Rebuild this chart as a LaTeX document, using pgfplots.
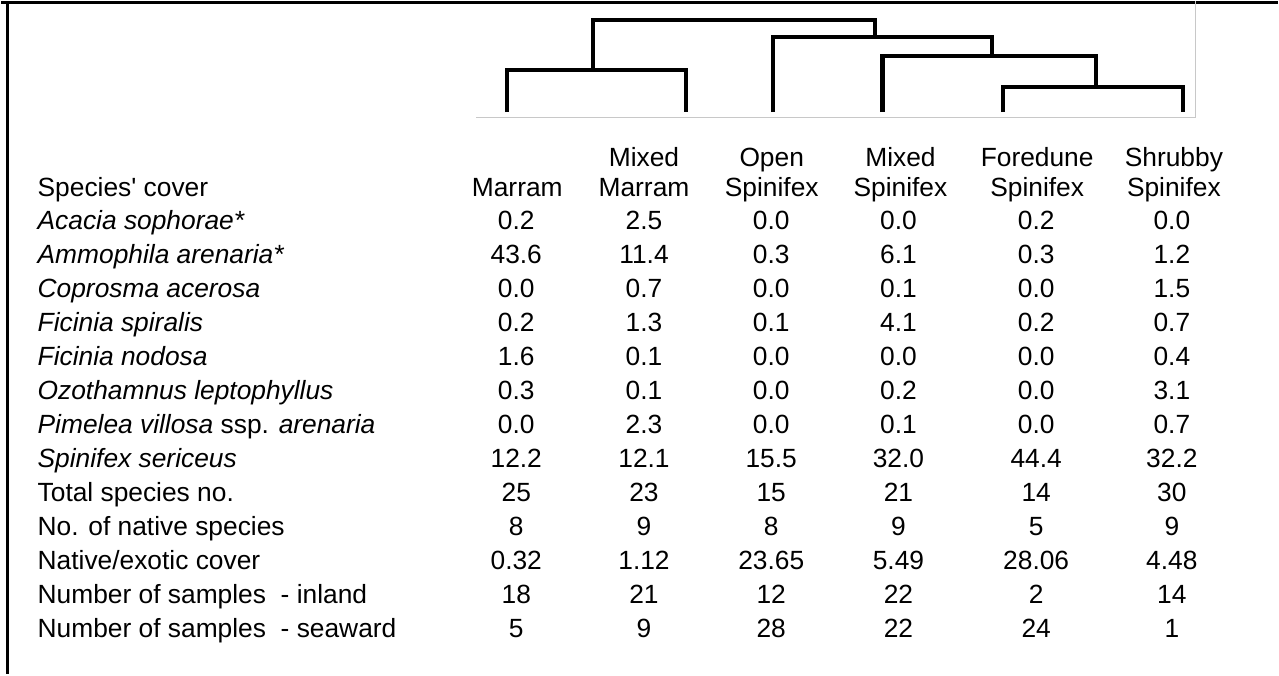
\documentclass[border=0pt]{standalone}
\usepackage{pgfplots}
\pgfplotsset{compat=1.18}
\usepackage{pgfplotstable}
\usepackage{fontspec}
\newfontfamily\arial{Liberation Sans}
\newcommand{\tabfont}{\arial\fontsize{13.2}{15.8}\selectfont}
\definecolor{boxgray}{RGB}{200,200,200}

% rows: 1..13, value columns c1..c6
\pgfplotstableread{
row c1 c2 c3 c4 c5 c6
1 0.2 2.5 0.0 0.0 0.2 0.0
2 43.6 11.4 0.3 6.1 0.3 1.2
3 0.0 0.7 0.0 0.1 0.0 1.5
4 0.2 1.3 0.1 4.1 0.2 0.7
5 1.6 0.1 0.0 0.0 0.0 0.4
6 0.3 0.1 0.0 0.2 0.0 3.1
7 0.0 2.3 0.0 0.1 0.0 0.7
8 12.2 12.1 15.5 32.0 44.4 32.2
9 25 23 15 21 14 30
10 8 9 8 9 5 9
11 0.32 1.12 23.65 5.49 28.06 4.48
12 18 21 12 22 2 14
13 5 9 28 22 24 1
}\cover

\pgfplotsset{
  valcol/.style={draw=none, mark=none, nodes near coords, point meta=explicit symbolic,
    nodes near coords align={anchor=base},
    every node near coord/.append style={font=\tabfont, inner sep=0pt, anchor=base}},
}

\begin{document}
\begin{tikzpicture}
\begin{axis}[
  scale only axis, width=639.5pt, height=337pt,
  xmin=0, xmax=1279, ymin=0, ymax=674, y dir=reverse,
  hide axis, clip=false,
  every axis plot/.append style={mark=none},
]
% bounding corners
\addplot[draw=none] coordinates {(0,0) (1279,674)};
% frame
\addplot[black, line width=1.35pt] coordinates {(0,1.35) (1279,1.35)};
\addplot[black, line width=1.35pt] coordinates {(6.5,0) (6.5,674)};
% dendrogram image box
\addplot[boxgray, line width=0.75pt] coordinates {(476,116.5) (1196.7,116.5) (1196.7,0)};
% dendrogram
\addplot[black, line width=2.2pt, line join=miter] coordinates {(507,111) (507,69) (686,69) (686,111)};
\addplot[black, line width=2.2pt, line join=miter] coordinates {(593,69) (593,18.5) (875.5,18.5) (875.5,36)};
\addplot[black, line width=2.2pt, line join=miter] coordinates {(773,111) (773,36) (993,36) (993,54.5)};
\addplot[black, line width=2.2pt, line join=miter] coordinates {(883,111) (883,54.5) (1097,54.5) (1097,86)};
\addplot[black, line width=2.2pt, line join=miter] coordinates {(1004,111) (1004,86) (1184,86) (1184,111)};

% values (baselines 229 + 34*(row-1))
\addplot[valcol] table[x expr=516, y expr={229+34*(\thisrow{row}-1)}, meta=c1] {\cover};
\addplot[valcol] table[x expr=644, y expr={229+34*(\thisrow{row}-1)}, meta=c2] {\cover};
\addplot[valcol] table[x expr=771.5, y expr={229+34*(\thisrow{row}-1)}, meta=c3] {\cover};
\addplot[valcol] table[x expr=899, y expr={229+34*(\thisrow{row}-1)}, meta=c4] {\cover};
\addplot[valcol] table[x expr=1037, y expr={229+34*(\thisrow{row}-1)}, meta=c5] {\cover};
\addplot[valcol] table[x expr=1173, y expr={229+34*(\thisrow{row}-1)}, meta=c6] {\cover};

% header
\begin{scope}[every node/.style={font=\tabfont, inner sep=0pt, anchor=base}]
\node at (axis cs:517,196) {Marram};
\node at (axis cs:644,165) {Mixed};
\node at (axis cs:644,196) {Marram};
\node at (axis cs:772,165) {Open};
\node at (axis cs:772,196) {Spinifex};
\node at (axis cs:901,165) {Mixed};
\node at (axis cs:901,196) {Spinifex};
\node at (axis cs:1038,165) {Foredune};
\node at (axis cs:1038,196) {Spinifex};
\node at (axis cs:1175,165) {Shrubby};
\node at (axis cs:1175,196) {Spinifex};
\end{scope}
% row labels
\begin{scope}[every node/.style={font=\tabfont, inner sep=0pt, anchor=base west}]
\node at (axis cs:36,196) {Species' cover};
\node at (axis cs:36,229) {\itshape Acacia sophorae*};
\node at (axis cs:36,263) {\itshape Ammophila arenaria*};
\node at (axis cs:36,297) {\itshape Coprosma acerosa};
\node at (axis cs:36,331) {\itshape Ficinia spiralis};
\node at (axis cs:36,365) {\itshape Ficinia nodosa};
\node at (axis cs:36,399) {\itshape Ozothamnus leptophyllus};
\node at (axis cs:36,433) {\textit{Pimelea villosa} ssp. \textit{arenaria}};
\node at (axis cs:36,467) {\itshape Spinifex sericeus};
\node at (axis cs:36,501) {Total species no.};
\node at (axis cs:36,535) {No. of native species};
\node at (axis cs:36,569) {Native/exotic cover};
\node at (axis cs:36,603) {Number of samples~ - inland};
\node at (axis cs:36,637) {Number of samples~ - seaward};
\end{scope}
\end{axis}
\end{tikzpicture}
\end{document}
